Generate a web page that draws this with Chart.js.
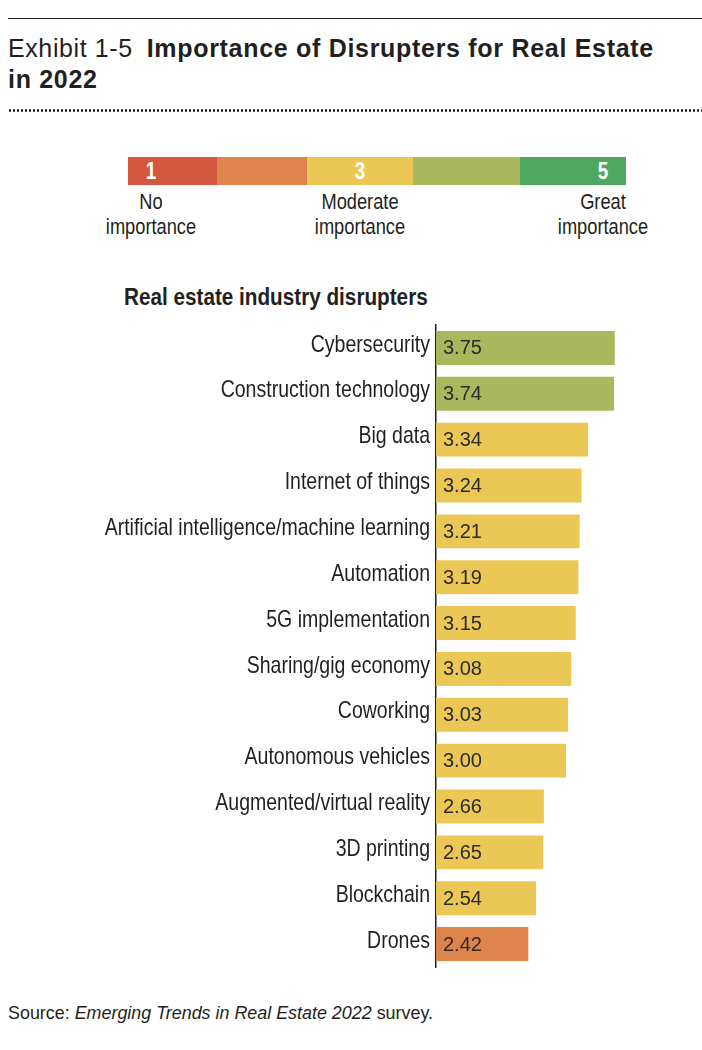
<!DOCTYPE html>
<html>
<head>
<meta charset="utf-8">
<script src="https://cdn.jsdelivr.net/npm/chart.js@4/dist/chart.umd.min.js"></script>
<style>
  html, body { margin: 0; padding: 0; background: #fff; }
  body { width: 702px; height: 1050px; position: relative; overflow: hidden; color: #231f20; }
  .abs { position: absolute; white-space: nowrap; }
  #topline { left: 8px; top: 18px; width: 694px; height: 0; border-top: 1.3px solid #231f20; }
  #title { left: 8px; top: 33px; font-family: "Liberation Sans", Arial, sans-serif; font-size: 25px; line-height: 30.5px; }
  #title .reg { letter-spacing: 0.6px; }
  #title .bold { font-weight: bold; letter-spacing: 0.7px; }
  #dots { left: 8px; top: 109px; width: 694px; height: 3px;
    background-image: radial-gradient(circle, #231f20 1.05px, transparent 1.35px);
    background-size: 4px 3px; background-repeat: repeat-x; }
  .seg { position: absolute; top: 157px; height: 28px; }
  .num { position: absolute; top: 157px; height: 28px; line-height: 29px; width: 40px; margin-left: -20px; text-align: center;
    color: #fff; font-family: "Liberation Sans", Arial, sans-serif; font-weight: bold; font-size: 23px;
    transform: scaleX(0.82); transform-origin: center; }
  .lg { position: absolute; top: 190px; width: 200px; margin-left: -100px; text-align: center;
    font-family: "Liberation Sans", Arial, sans-serif; font-size: 22px; line-height: 24.5px;
    transform: scaleX(0.83); transform-origin: center; }
  #sub { left: 124px; top: 284px; font-family: "Liberation Sans", Arial, sans-serif; font-weight: bold; font-size: 23px;
    transform: scaleX(0.9); transform-origin: left center; }
  #source { left: 8px; top: 1003px; font-family: "Liberation Sans", Arial, sans-serif; font-size: 17.9px; }
  #chart { position: absolute; left: 0; top: 320px; }
</style>
</head>
<body>
<div id="topline" class="abs"></div>
<div id="title" class="abs"><span class="reg">Exhibit 1-5</span>&nbsp; <span class="bold">Importance of Disrupters for Real Estate</span><br><span class="bold">in 2022</span></div>
<div id="dots" class="abs"></div>

<div id="legend"></div>

<div id="sub" class="abs">Real estate industry disrupters</div>

<canvas id="chart" width="702" height="652"></canvas>

<div id="source" class="abs">Source: <i>Emerging Trends in Real Estate 2022</i> survey.</div>

<script>
// ---- Data ----
const categories = [
  "Cybersecurity",
  "Construction technology",
  "Big data",
  "Internet of things",
  "Artificial intelligence/machine learning",
  "Automation",
  "5G implementation",
  "Sharing/gig economy",
  "Coworking",
  "Autonomous vehicles",
  "Augmented/virtual reality",
  "3D printing",
  "Blockchain",
  "Drones"
];
const scores = [3.75, 3.74, 3.34, 3.24, 3.21, 3.19, 3.15, 3.08, 3.03, 3.00, 2.66, 2.65, 2.54, 2.42];

// Importance scale (legend)
const scaleColors = ["#d4583f", "#de844b", "#ebc856", "#a9b75d", "#4fa862"];
const scaleNumbers = ["1", "", "3", "", "5"];
const scaleLabels = ["No<br>importance", "", "Moderate<br>importance", "", "Great<br>importance"];

// ---- Legend (HTML) ----
const segEdges = [128, 217, 307, 413, 520, 626];
const numCenters = [151, null, 360, null, 603];
const legend = document.getElementById('legend');
scaleColors.forEach((c, i) => {
  const d = document.createElement('div');
  d.className = 'seg';
  d.style.left = segEdges[i] + 'px';
  d.style.width = (segEdges[i + 1] - segEdges[i]) + 'px';
  d.style.background = c;
  legend.appendChild(d);
});
scaleNumbers.forEach((n, i) => {
  if (!n) return;
  const d = document.createElement('div');
  d.className = 'num';
  d.style.left = numCenters[i] + 'px';
  d.textContent = n;
  legend.appendChild(d);
});
scaleLabels.forEach((t, i) => {
  if (!t) return;
  const d = document.createElement('div');
  d.className = 'lg';
  d.style.left = numCenters[i] + 'px';
  d.innerHTML = t;
  legend.appendChild(d);
});

// colour each bar by its rounded importance level
function colorFor(v) {
  const level = Math.min(5, Math.max(1, Math.round(v)));
  return scaleColors[level - 1];
}

// condensed category labels, placed with the y scale
const condensedLabels = {
  id: 'condensedLabels',
  afterDraw(chart) {
    const ctx = chart.ctx;
    const yScale = chart.scales.y;
    const x = chart.chartArea.left - 6;
    ctx.save();
    ctx.font = '24px "Liberation Sans", Arial, sans-serif';
    ctx.fillStyle = '#231f20';
    ctx.textAlign = 'right';
    ctx.textBaseline = 'middle';
    yScale.getLabels().forEach((lab, i) => {
      const y = yScale.getPixelForValue(i);
      ctx.save();
      ctx.translate(x, y - 3);
      ctx.scale(0.813, 1);
      ctx.fillText(lab, 0, 0);
      ctx.restore();
    });
    ctx.restore();
  }
};

const valueLabels = {
  id: 'valueLabels',
  afterDatasetsDraw(chart) {
    const ctx = chart.ctx;
    const xScale = chart.scales.x;
    const meta = chart.getDatasetMeta(0);
    const x0 = xScale.getPixelForValue(xScale.min) + 7;
    ctx.save();
    ctx.font = '20px "Liberation Sans", Arial, sans-serif';
    ctx.fillStyle = '#2b2b2b';
    ctx.textAlign = 'left';
    ctx.textBaseline = 'middle';
    meta.data.forEach((el, i) => {
      ctx.fillText(scores[i].toFixed(2), x0, el.y + 1);
    });
    ctx.restore();
  }
};

new Chart(document.getElementById('chart'), {
  type: 'bar',
  data: {
    labels: categories,
    datasets: [{
      data: scores,
      backgroundColor: scores.map(colorFor),
      borderWidth: 0,
      barPercentage: 0.74,
      categoryPercentage: 1.0,
      base: 1
    }]
  },
  options: {
    indexAxis: 'y',
    responsive: false,
    animation: false,
    layout: { padding: { top: 5, bottom: 5, left: 0, right: 6 } },
    plugins: { legend: { display: false }, tooltip: { enabled: false } },
    scales: {
      x: { display: false, min: 1, max: 5 },
      y: {
        afterFit(s) { s.width = 436; s.paddingTop = 0; s.paddingBottom = 0; },
        grid: { display: false, drawTicks: false },
        border: { display: true, color: '#231f20', width: 1.5 },
        ticks: { display: false }
      }
    }
  },
  plugins: [valueLabels, condensedLabels]
});
</script>
</body>
</html>
